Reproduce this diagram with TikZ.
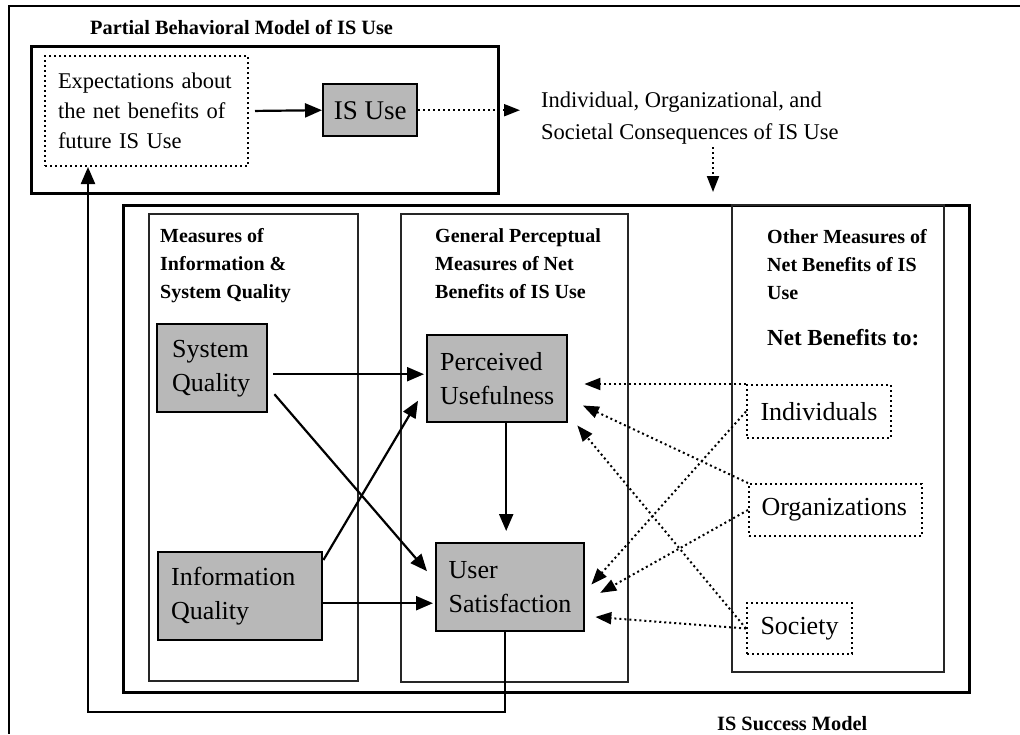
\documentclass[tikz,border=0pt]{standalone}
\usepackage{fontspec}
\setmainfont{Liberation Serif}
\usetikzlibrary{arrows.meta,positioning}

\newcommand\boxfnt{\fontsize{26}{34}\selectfont}
\newcommand\headfnt{\fontsize{20}{28}\selectfont\bfseries}
\newcommand\midfnt{\fontsize{22.5}{30}\selectfont}

\tikzstyle{frame}     = [draw, line width=2.6pt, anchor=north west, inner sep=0pt]
\tikzstyle{column}    = [draw=black!85, line width=1.5pt, anchor=north west, inner sep=0pt]
\tikzstyle{construct} = [draw, line width=2.4pt, fill=black!28, anchor=north west, align=left, inner xsep=13pt, font=\boxfnt]
\tikzstyle{benefit}   = [draw, line width=2pt, dash pattern=on 2pt off 3pt, anchor=north west, align=left, inner xsep=13.5pt, font=\boxfnt]
\tikzstyle{heading}   = [anchor=north west, inner sep=0pt, align=left, font=\headfnt]
\tikzstyle{arrow}     = [line width=2.2pt, -{Triangle[length=17pt,width=14pt]}]
\tikzstyle{dotarrow}  = [line width=2pt, dash pattern=on 2pt off 3pt, -{Triangle[length=16pt,width=12pt]}]

\begin{document}
\begin{tikzpicture}[x=1pt,y=-1pt]
    \useasboundingbox (0,0) rectangle (1020,734);
    \draw[line width=2.4pt] (1020,6) -- (9,6) -- (9,734);

    % behavioral model
    \node[anchor=base west, inner sep=0pt, font=\fontsize{20.3}{24}\selectfont\bfseries] (bhtitle) at (90,34) {Partial Behavioral Model of IS Use};
    \node[frame, minimum width=467pt, minimum height=147pt] (bhframe) at (30,45) {};
    \node[benefit, text width=177pt, minimum height=110pt, font=\midfnt, inner xsep=13pt] (expect) at (44,55) {Expectations about\\the net benefits of\\future IS Use};
    \node[construct, minimum width=94pt, minimum height=52pt, align=center, inner xsep=4pt, font=\fontsize{27}{32}\selectfont] (isuse) at (322,83) {IS Use};
    \node[anchor=west, inner sep=0pt, align=left, font=\fontsize{22.5}{32}\selectfont] (conseq) at (541,118) {Individual, Organizational, and\\Societal Consequences of IS Use};

    % success model
    \node[frame, minimum width=846pt, minimum height=487pt] (success) at (122,204) {};
    \node[column, minimum width=209pt, minimum height=467pt] (colquality) at (148,213) {};
    \node[column, minimum width=227pt, minimum height=468pt] (colperceive) at (400,213) {};
    \node[column, minimum width=212pt, minimum height=467pt] (colother) at (731,204) {};
    \node[anchor=base west, inner sep=0pt, font=\fontsize{20.3}{24}\selectfont\bfseries] (sstitle) at (717,730) {IS Success Model};

    \node[heading] (hquality) at (160,228) {Measures of\\Information \&\\System Quality};
    \node[heading] (hperceive) at (435,228) {General Perceptual\\Measures of Net\\Benefits of IS Use};
    \node[heading] (hother) at (767,229) {Other Measures of\\Net Benefits of IS\\Use};
    \node[anchor=base west, inner sep=0pt, font=\fontsize{23}{28}\selectfont\bfseries] (hto) at (767,345) {Net Benefits to:};

    \node[construct, text width=80pt, minimum height=88pt, inner xsep=15pt] (sysq) at (156,323) {System\\Quality};
    \node[construct, text width=114pt, minimum height=87pt] (useful) at (426,334) {Perceived\\Usefulness};
    \node[construct, text width=138pt, minimum height=88pt] (infoq) at (157,551) {Information\\Quality};
    \node[construct, text width=123pt, minimum height=88pt, inner xsep=12.5pt] (satisf) at (435,542) {User\\Satisfaction};

    \node[benefit, text width=117pt, minimum height=53pt] (indiv) at (746,384) {Individuals};
    \node[benefit, text width=148pt, minimum height=52pt, inner xsep=12.5pt] (orgs) at (748,483) {Organizations};
    \node[benefit, text width=78pt, minimum height=51pt] (society) at (746,602) {Society};

    % links
    \draw[arrow, shorten <=6pt] (expect.east) -- (isuse.west);
    \draw[dotarrow, shorten >=21pt] (isuse.east) -- (isuse.east -| conseq.west);
    \coordinate (cdrop) at (713,147);
    \draw[dotarrow, shorten >=12pt] (cdrop) -- (cdrop |- success.north);

    \draw[arrow, shorten <=5pt, shorten >=2pt] ([yshift=-6pt]sysq.east) -- ([yshift=-6pt]sysq.east -| useful.west);
    \draw[arrow] ([shift={(6pt,-26pt)}]sysq.east) -- ([shift={(-8pt,16pt)}]satisf.west);
    \draw[arrow] ([yshift=-9pt]infoq.north east) -- ([shift={(-8pt,-22pt)}]useful.west);
    \draw[arrow, shorten >=2pt] ([yshift=-7pt]infoq.east) -- ([yshift=-7pt]infoq.east -| satisf.west);
    \draw[arrow, shorten >=11pt] ([xshift=9pt]useful.south) -- ([xshift=9pt]useful.south |- satisf.north);

    % feedback
    \coordinate (fbr) at (505,712);
    \coordinate (fbl) at (88,712);
    \draw[arrow] (fbr |- satisf.south) -- (fbr) -- (fbl) -- (fbl |- expect.south);

    \draw[dotarrow, shorten >=16pt] (indiv.north west) -- (indiv.north west -| useful.east);
    \draw[dotarrow, shorten >=16pt] (orgs.north west) -- ([yshift=-20pt]useful.east);
    \draw[dotarrow, shorten >=14pt] (society.west) -- ([yshift=-36pt]useful.east);
    \draw[dotarrow, shorten >=9pt] (indiv.west) -- ([yshift=-4pt]satisf.east);
    \draw[dotarrow, shorten >=17pt] (orgs.west) -- ([yshift=-14pt]satisf.east);
    \draw[dotarrow, shorten >=10pt] (society.west) -- ([yshift=-29pt]satisf.east);
\end{tikzpicture}
\end{document}
